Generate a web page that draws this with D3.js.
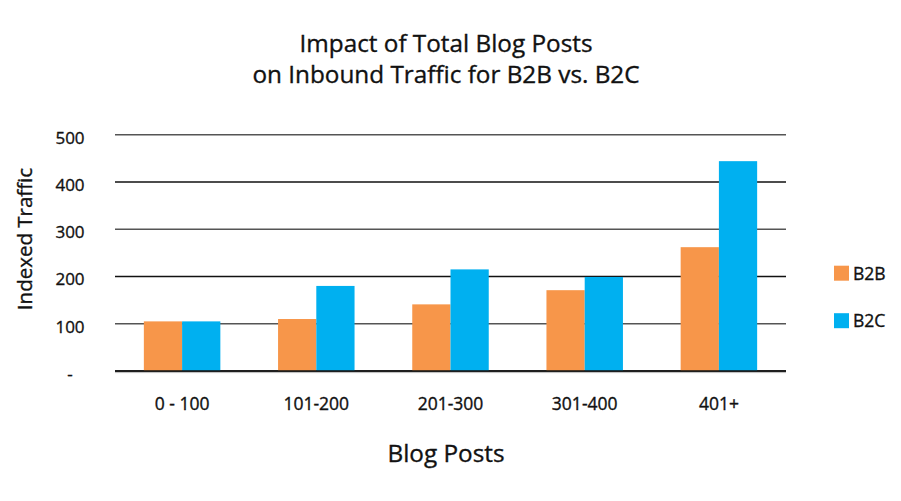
<!DOCTYPE html>
<html><head><meta charset="utf-8">
<script src="https://cdn.jsdelivr.net/npm/d3@7"></script>
<style>body{margin:0;background:#fff;} text{font-family:"Open Sans",sans-serif;fill:#111;stroke:#111;stroke-width:0.35px;}</style>
</head><body><svg id="c" width="901" height="501"></svg>
<script>
const categories = ["0 - 100","101-200","201-300","301-400","401+"];
const seriesNames = ["B2B","B2C"];
const b2b = [105, 110, 141, 171, 262];
const b2c = [105, 180, 215, 199, 444];
const yTicks = [0,100,200,300,400,500];
const yTickLabels = ["-","100","200","300","400","500"];
const colors = ["#F7964A","#00B0F0"];

(function(){
const svg = d3.select("#c");
const pl = 115, pr = 786, pt = 134.7, pb = 371;
const x = d3.scaleBand().domain(categories).range([pl,pr]).paddingInner(0.43).paddingOuter(0.215);
const xs = d3.scaleBand().domain(seriesNames).range([0,x.bandwidth()]);
const y = d3.scaleLinear().domain([0,500]).range([pb,pt]);

// gridlines
svg.append("g").selectAll("line").data(yTicks).join("line")
  .attr("x1",pl).attr("x2",pr)
  .attr("y1",d=>y(d)).attr("y2",d=>y(d))
  .attr("stroke",(d,i)=> i%2? "#555":"#111").attr("stroke-width",1.6);

// y labels
svg.append("g").selectAll("text").data(yTicks).join("text")
  .attr("x",70).attr("y",d=>y(d)+9).attr("text-anchor","middle")
  .attr("font-size",17).text((d,i)=>yTickLabels[i]);

// bars
const data = categories.map((c,i)=>({c, vals:[b2b[i],b2c[i]]}));
const g = svg.append("g").selectAll("g").data(data).join("g")
  .attr("transform",d=>`translate(${x(d.c)},0)`);
g.selectAll("rect").data(d=>d.vals.map((v,j)=>({v,s:seriesNames[j],j}))).join("rect")
  .attr("x",d=>xs(d.s)).attr("width",xs.bandwidth())
  .attr("y",d=>y(d.v)).attr("height",d=>y(0)-y(d.v))
  .attr("fill",d=>colors[d.j]);

// baseline
svg.append("line").attr("x1",pl).attr("x2",pr).attr("y1",pb).attr("y2",pb)
  .attr("stroke","#111").attr("stroke-width",1.6);
svg.append("line").attr("x1",pl).attr("x2",pr).attr("y1",pb+1.6).attr("y2",pb+1.6)
  .attr("stroke","#bbb").attr("stroke-width",1);

// x labels
svg.append("g").selectAll("text").data(categories).join("text")
  .attr("x",d=>x(d)+x.bandwidth()/2).attr("y",410).attr("text-anchor","middle")
  .attr("font-size",17.5).text(d=>d);

// titles
svg.append("text").attr("x",446).attr("y",51.5).attr("text-anchor","middle").attr("font-size",24.3).text("Impact of Total Blog Posts");
svg.append("text").attr("x",446).attr("y",82.5).attr("text-anchor","middle").attr("font-size",24.3).text("on Inbound Traffic for B2B vs. B2C");
svg.append("text").attr("x",446).attr("y",461.5).attr("text-anchor","middle").attr("font-size",24.3).text("Blog Posts");
svg.append("text").attr("transform","translate(32,239) rotate(-90)").attr("text-anchor","middle").attr("font-size",20.5).text("Indexed Traffic");

// legend
const lg = svg.append("g").selectAll("g").data(seriesNames).join("g")
  .attr("transform",(d,i)=>`translate(834,${265.7+i*47.5})`);
lg.append("rect").attr("width",15).attr("height",15).attr("fill",(d,i)=>colors[i]);
lg.append("text").attr("x",19).attr("y",13.8).attr("font-size",17.5).text(d=>d);
})();
</script></body></html>
